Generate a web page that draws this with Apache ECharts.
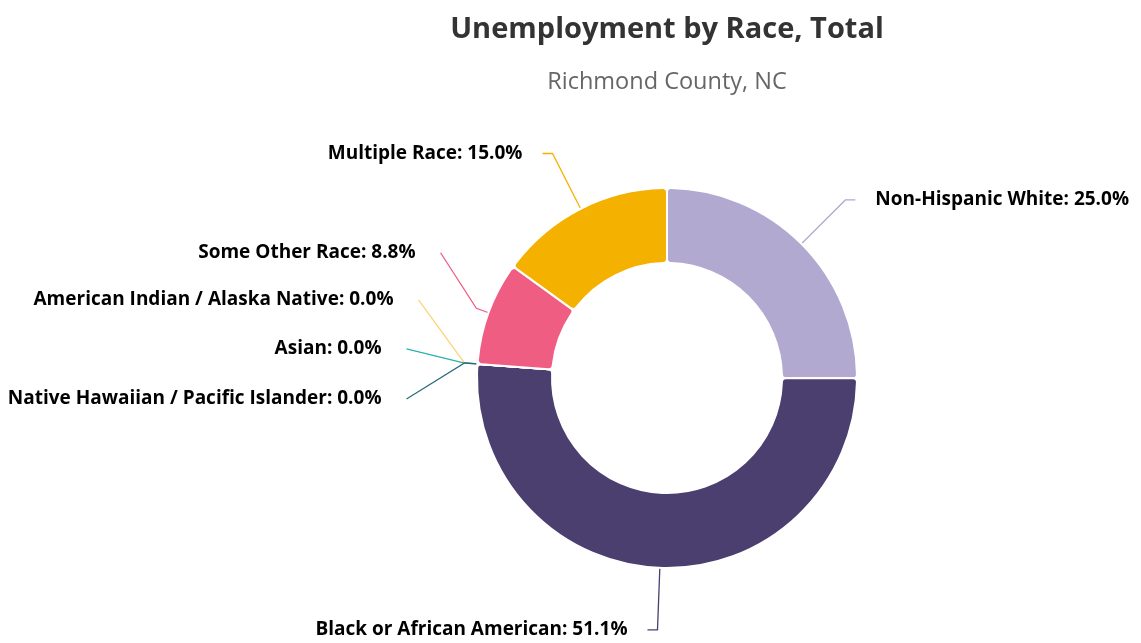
<!DOCTYPE html>
<html>
<head>
<meta charset="utf-8">
<script src="https://cdn.jsdelivr.net/npm/echarts@6/dist/echarts.min.js"></script>
<style>
html,body{margin:0;padding:0;background:#fff;}
#chart{width:1141px;height:643px;}
</style>
</head>
<body>
<div id="chart"></div>
<script>
const titleText = 'Unemployment by Race, Total';
const subtitleText = 'Richmond County, NC';
const categories = [
  'Non-Hispanic White',
  'Black or African American',
  'American Indian / Alaska Native',
  'Asian',
  'Native Hawaiian / Pacific Islander',
  'Some Other Race',
  'Multiple Race'
];
const values = [25.0, 51.1, 0.0, 0.0, 0.0, 8.8, 15.0];
const colors = ['#b1a9d0', '#4b3f6f', '#fcd47a', '#2bb0b0', '#2b6e80', '#f05d82', '#f5b100'];

// Label nudges (label placement only, relative to the slice's label-line anchor on the outer edge):
// [offset of text end from anchor x, offset of text middle from anchor y]
const labelNudges = {
  'Some Other Race': [-73, -60],
  'American Indian / Alaska Native': [-84, -64],
  'Asian': [-96, -15],
  'Native Hawaiian / Pacific Islander': [-96, 35]
};

const chart = echarts.init(document.getElementById('chart'), null, {renderer: 'canvas'});
chart.setOption({
  animation: false,
  title: {
    text: titleText,
    subtext: subtitleText,
    left: 662,
    textAlign: 'center',
    top: 10,
    itemGap: 26,
    textStyle: {fontFamily: 'Open Sans', fontWeight: 'bold', fontSize: 29, color: '#333'},
    subtextStyle: {fontFamily: 'Open Sans', fontSize: 23.5, color: '#666'}
  },
  series: [{
    type: 'pie',
    center: [667, 378],
    radius: [115, 190],
    startAngle: 90,
    clockwise: true,
    avoidLabelOverlap: false,
    itemStyle: {borderColor: '#fff', borderWidth: 2, borderRadius: 4},
    label: {
      show: true,
      position: 'outside',
      formatter: p => p.name + ': ' + p.value.toFixed(1) + '%',
      fontFamily: 'Open Sans',
      fontWeight: 'bold',
      fontSize: 19,
      color: '#000',
      distanceToLabelLine: 20
    },
    labelLine: {show: true, length: 62, length2: 10, lineStyle: {width: 1.3}},
    labelLayout: function (params) {
      const nudge = labelNudges[params.text.split(':')[0]];
      if (!nudge || !params.labelLinePoints) return {};
      const pts = params.labelLinePoints;
      const p0 = pts[0];
      const dx = pts[1][0] - p0[0], dy = pts[1][1] - p0[1];
      const len = Math.sqrt(dx * dx + dy * dy) || 1;
      const p1 = [p0[0] + dx / len * 13, p0[1] + dy / len * 13];
      const tx = p0[0] + nudge[0];
      const ty = p0[1] + nudge[1];
      return {
        x: tx,
        y: ty,
        align: 'right',
        verticalAlign: 'middle',
        labelLinePoints: [p0, p1, [tx + 25, ty]]
      };
    },
    data: categories.map((c, i) => ({
      name: c,
      value: values[i],
      itemStyle: {color: colors[i]},
      labelLine: {lineStyle: {color: colors[i]}}
    }))
  }]
});
</script>
</body>
</html>
